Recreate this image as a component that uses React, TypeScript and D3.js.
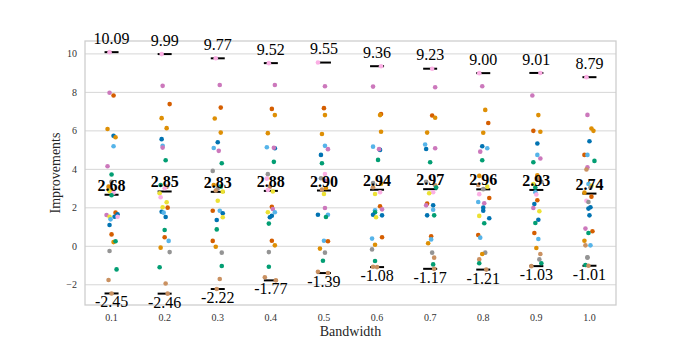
import React from "react";
import * as d3 from "d3";

const categories = ["0.1", "0.2", "0.3", "0.4", "0.5", "0.6", "0.7", "0.8", "0.9", "1.0"];
const maxLabels = ["10.09", "9.99", "9.77", "9.52", "9.55", "9.36", "9.23", "9.00", "9.01", "8.79"];
const meanLabels = ["2.68", "2.85", "2.83", "2.88", "2.90", "2.94", "2.97", "2.96", "2.93", "2.74"];
const minLabels = ["-2.45", "-2.46", "-2.22", "-1.77", "-1.39", "-1.08", "-1.17", "-1.21", "-1.03", "-1.01"];
const yTicks = [-2, 0, 2, 4, 6, 8, 10];

// hue key -> seaborn colorblind palette
const hueColors: Record<string, string> = {
  B: "#0173b2", O: "#de8f05", G: "#029e73", R: "#d55e00", P: "#cc78bc",
  T: "#ca9161", L: "#fbafe4", K: "#949494", Y: "#ece133", S: "#56b4e9",
};

type Pt = [number, string, number]; // value, hue, jitter

const strip01: Pt[] = [[10.09,"L",-2],[7.98,"P",-2],[7.84,"R",2],[6.10,"O",-4],[5.74,"B",2],[5.67,"O",4],[5.20,"S",2],[4.16,"P",-4],[3.73,"G",0],[3.35,"K",0],[3.10,"O",-3],[2.93,"T",0],[2.86,"Y",-2],[2.78,"L",2],[2.65,"G",0],[1.75,"R",4],[1.66,"B",6],[1.63,"P",-5],[1.54,"Y",-2],[1.54,"B",3],[1.54,"L",6],[1.40,"S",-1],[1.11,"B",-2],[0.62,"R",0],[0.22,"O",2],[0.26,"G",4],[-0.24,"K",-2],[-1.20,"G",5],[-1.75,"T",-3],[-2.45,"T",0]];
const strip02: Pt[] = [[9.99,"L",-3],[8.34,"P",-2],[7.39,"R",5],[6.66,"O",-3],[6.14,"O",2],[5.57,"B",-3],[5.23,"S",-2],[5.13,"P",-2],[4.47,"G",1],[3.19,"G",-4],[3.10,"T",2],[3.02,"L",0],[2.76,"Y",-5],[2.55,"L",-4],[2.29,"Y",2],[2.03,"Y",-2],[2.01,"R",3],[1.80,"B",-3],[1.75,"S",-1],[1.52,"B",1],[0.85,"G",0],[0.47,"R",0],[0.28,"S",4],[-0.07,"O",-4],[-0.30,"K",5],[-1.09,"G",-5],[-1.93,"T",1],[-2.46,"T",3]];
const strip03: Pt[] = [[9.77,"L",-2],[8.38,"P",2],[7.21,"R",3],[6.64,"O",-3],[5.91,"O",3],[5.41,"B",0],[5.11,"S",-4],[4.96,"P",1],[4.32,"G",4],[3.92,"K",-5],[3.19,"O",-4],[3.10,"G",3],[3.00,"K",0],[2.90,"T",-2],[2.84,"Y",5],[2.37,"Y",0],[1.85,"R",-5],[1.85,"S",2],[1.72,"B",5],[1.51,"Y",5],[1.37,"B",-1],[0.88,"G",-1],[0.28,"R",-5],[-0.02,"O",-2],[-0.33,"K",4],[-1.02,"G",4],[-1.70,"T",2],[-2.22,"T",-1]];
const strip04: Pt[] = [[9.52,"L",-2],[8.38,"P",4],[7.14,"R",1],[6.82,"O",4],[5.88,"O",-3],[5.15,"S",-4],[5.10,"B",4],[5.12,"P",3],[4.39,"G",3],[3.75,"K",-3],[3.52,"L",-4],[3.10,"T",-1],[2.93,"L",-3],[2.85,"Y",2],[2.05,"R",1],[1.94,"P",2],[1.77,"Y",-3],[1.77,"S",4],[1.59,"B",1],[1.51,"B",-1],[1.18,"G",-2],[0.29,"R",1],[0.05,"O",4],[-0.30,"K",-2],[-1.06,"G",-2],[-1.61,"T",-6],[-1.77,"T",5]];
const strip05: Pt[] = [[9.55,"L",-6],[8.32,"P",1],[7.18,"R",0],[6.82,"O",1],[5.84,"O",-2],[5.22,"S",1],[5.05,"P",4],[4.75,"B",-3],[4.32,"G",-2],[3.76,"L",1],[3.54,"K",-3],[3.41,"P",1],[3.03,"O",2],[2.95,"T",-2],[2.72,"Y",0],[1.99,"P",1],[1.64,"B",-6],[1.64,"S",4],[1.52,"G",2],[0.29,"S",0],[0.26,"R",4],[-0.12,"O",-4],[-0.33,"K",1],[-0.75,"G",-1],[-1.32,"T",-6],[-1.39,"T",4]];
const strip06: Pt[] = [[9.36,"L",4],[8.30,"P",-4],[6.87,"R",4],[6.82,"O",3],[5.95,"O",4],[5.18,"S",-4],[5.01,"B",3],[5.05,"P",2],[4.49,"G",1],[3.29,"K",-4],[3.25,"O",4],[3.07,"T",-4],[2.81,"L",3],[2.72,"Y",-2],[2.08,"R",3],[1.92,"P",5],[1.87,"S",-2],[1.77,"G",-2],[1.64,"B",-4],[1.61,"B",5],[1.51,"Y",-1],[0.47,"R",5],[0.40,"S",-5],[0.08,"O",-2],[-0.16,"K",-5],[-0.76,"G",-2],[-1.06,"T",-4],[-1.08,"T",0]];
const strip07: Pt[] = [[9.23,"L",2],[8.27,"P",5],[6.80,"R",2],[6.68,"O",5],[5.91,"O",-3],[5.29,"S",-5],[5.06,"B",-4],[5.10,"P",5],[4.37,"G",0],[3.35,"K",-4],[3.17,"T",5],[3.05,"G",6],[2.81,"L",3],[2.76,"Y",-1],[2.22,"R",-3],[2.13,"P",-4],[2.13,"B",3],[1.90,"S",3],[1.61,"B",-3],[1.61,"G",4],[0.52,"R",1],[0.36,"S",1],[0.16,"O",-2],[-0.33,"K",2],[-0.59,"T",4],[-0.94,"G",3],[-1.17,"T",4]];
const strip08: Pt[] = [[9.00,"L",-4],[8.32,"P",-1],[7.09,"O",2],[6.41,"R",5],[5.90,"O",0],[5.20,"B",-1],[5.10,"S",4],[4.92,"P",-3],[4.47,"G",-1],[3.66,"O",-4],[3.19,"T",-5],[3.10,"Y",4],[2.97,"K",0],[2.71,"L",-4],[2.51,"R",6],[2.30,"S",-5],[2.24,"P",1],[2.01,"B",0],[1.85,"B",0],[1.58,"Y",-4],[1.46,"B",6],[1.20,"G",1],[0.59,"R",-5],[0.45,"S",-3],[-0.33,"K",2],[-0.40,"O",-1],[-0.68,"T",-4],[-0.88,"G",-4],[-1.21,"T",3]];
const strip09: Pt[] = [[9.01,"L",4],[7.84,"P",-4],[6.82,"O",2],[6.00,"R",-3],[5.95,"O",4],[5.34,"B",1],[4.75,"S",1],[4.56,"P",4],[4.37,"G",-3],[3.69,"O",1],[3.50,"T",1],[3.35,"K",5],[3.24,"Y",-3],[3.05,"G",-1],[2.81,"S",-1],[2.69,"L",0],[2.39,"R",1],[2.20,"B",-2],[1.99,"P",-3],[1.82,"Y",3],[1.38,"B",2],[1.21,"G",-1],[0.69,"R",-2],[0.38,"S",2],[-0.09,"O",0],[-0.40,"T",4],[-0.68,"K",3],[-0.88,"G",5],[-1.03,"T",-5]];
const strip10: Pt[] = [[8.79,"L",-3],[6.83,"P",-2],[6.12,"O",2],[6.00,"O",4],[5.46,"B",0],[4.75,"R",-5],[4.75,"S",-2],[4.44,"G",5],[4.11,"P",-2],[3.99,"T",-3],[3.24,"S",-1],[3.15,"Y",2],[3.05,"K",1],[2.79,"O",-5],[2.58,"R",2],[2.37,"L",-3],[2.30,"K",-1],[2.03,"B",1],[1.96,"B",-1],[1.61,"B",0],[0.92,"P",-4],[0.78,"R",3],[0.69,"G",-1],[0.29,"O",-5],[0.05,"T",-4],[0.05,"S",1],[-0.57,"K",-2],[-0.59,"K",-2],[-0.97,"G",-4],[-1.01,"T",-1]];

const strips = [strip01, strip02, strip03, strip04, strip05, strip06, strip07, strip08, strip09, strip10];

const W = 685;
const H = 343;
const M = { left: 85, right: 616, top: 41, bottom: 305 };
const serif = "'Liberation Serif', 'Times New Roman', serif";

export default function App() {
  const x = d3.scaleBand<string>().domain(categories).range([M.left, M.right]).padding(0);
  const y = d3.scaleLinear().domain([-3.05, 10.67]).range([M.bottom, M.top]);
  const bw = x.bandwidth();
  const cx = (c: string) => (x(c) as number) + bw / 2;
  const jitterScale = d3.scaleLinear().domain([0, 53]).range([0, bw]);
  const half = 7;
  const fmtTick = (v: number) => (v < 0 ? "\u2212" + Math.abs(v) : String(v));

  return (
    <svg width={W} height={H} style={{ position: "fixed", left: 0, top: 0, background: "#fff" }} fontFamily={serif}>
      <rect x={0} y={0} width={W} height={H} fill="#fff" />
      {yTicks.map((t) => (
        <g key={t}>
          <line x1={M.left} x2={M.right} y1={y(t)} y2={y(t)} stroke="#d6d6d6" strokeWidth={1} />
          <text x={M.left - 8} y={y(t)} dy="0.35em" textAnchor="end" fontSize={10} fill="#333">
            {fmtTick(t)}
          </text>
        </g>
      ))}
      <rect x={M.left} y={M.top} width={M.right - M.left} height={M.bottom - M.top} fill="none" stroke="#cccccc" strokeWidth={1.25} />
      {categories.map((c) => (
        <text key={c} x={cx(c)} y={M.bottom + 16} textAnchor="middle" fontSize={10} fill="#333">
          {c}
        </text>
      ))}
      {categories.map((c, i) => {
        const pts = strips[i];
        const vals = pts.map((p) => p[0]);
        const vmax = d3.max(vals) as number;
        const vmin = d3.min(vals) as number;
        const vmean = parseFloat(meanLabels[i]);
        return (
          <g key={"l" + c}>
            {[vmax, vmean, vmin].map((v, k) => (
              <line key={k} x1={cx(c) - half} x2={cx(c) + half} y1={y(v)} y2={y(v)} stroke="#000" strokeWidth={2} />
            ))}
          </g>
        );
      })}
      {categories.map((c, i) => (
        <g key={"p" + c}>
          {strips[i].map((p, k) => (
            <circle key={k} cx={cx(c) + jitterScale(p[2])} cy={y(p[0])} r={2.3} fill={hueColors[p[1]]} />
          ))}
        </g>
      ))}
      {categories.map((c, i) => {
        const vals = strips[i].map((p) => p[0]);
        const vmax = d3.max(vals) as number;
        const vmin = d3.min(vals) as number;
        const vmean = parseFloat(meanLabels[i]);
        return (
          <g key={"t" + c} fontSize={16} fill="#000" textAnchor="middle">
            <text x={cx(c)} y={y(vmax) - 8.4}>{maxLabels[i]}</text>
            <text x={cx(c)} y={y(vmean) - 4} fontWeight="bold">{meanLabels[i]}</text>
            <text x={cx(c)} y={y(vmin) + 14}>{minLabels[i]}</text>
          </g>
        );
      })}
      <text x={(M.left + M.right) / 2} y={336} textAnchor="middle" fontSize={14} fill="#262626">
        Bandwidth
      </text>
      <text
        transform={`translate(${60},${(M.top + M.bottom) / 2}) rotate(-90)`}
        textAnchor="middle"
        fontSize={14}
        fill="#262626"
      >
        Improvements
      </text>
    </svg>
  );
}
